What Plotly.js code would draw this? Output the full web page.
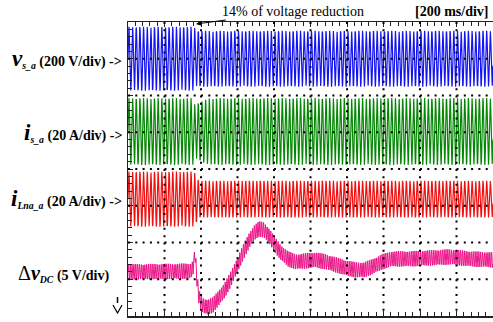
<!DOCTYPE html>
<html><head><meta charset="utf-8">
<script src="https://cdn.plot.ly/plotly-3.0.1.min.js"></script>
<style>html,body{margin:0;padding:0;background:#fff}#chart{width:493px;height:322px}</style>
</head><body><div id="chart"></div>
<script>
// ---- data ----
// time base: 200 ms/div, 10 divisions
const timeSpanMs = 2000;
const lineFreqHz = 50;
const sampleStepMs = 1.7;

// v_s_a envelope (peak volts), 200 V/div, trace centre at div 7
const vsEnvTime = [0, 364, 372, 2000];
const vsEnvAmp  = [174, 174, 152, 152];
// i_s_a envelope (peak amps), 20 A/div, trace centre at div 5
const isEnvTime = [0, 355, 365, 385, 410, 450, 2000];
const isEnvAmp  = [18.2, 18.2, 15.0, 15.4, 16.8, 18.2, 18.2];
// i_Lna_a envelope (peak amps), 20 A/div, trace centre at div 3.18
const ilEnvTime = [0, 362, 388, 2000];
const ilEnvAmp  = [15.0, 15.0, 10.0, 10.0];
// delta v_DC mean value (volts), 5 V/div, zero at div 1.2
const dcTime = [0, 340, 356, 367, 378, 389, 411, 438, 466, 499, 531, 564, 597, 630, 663, 690, 718, 745, 773, 805, 838, 877, 920, 975, 1030, 1085, 1140, 1194, 1249, 1293, 1337, 1392, 1446, 1545, 1655, 1764, 1874, 2000];
const dcMean = [0, 0.1, 0.5, 2.6, -1.1, -3.5, -4.6, -4.8, -4.5, -3.5, -2.45, -0.95, 0.8, 2.6, 4.2, 5.3, 5.85, 5.7, 4.9, 3.7, 2.6, 1.77, 1.36, 1.5, 1.63, 1.36, 0.95, 0.54, 0.27, 0.27, 0.68, 1.36, 1.77, 1.77, 1.9, 2.04, 1.77, 1.63];
const dcRippleAmp = 1.05;   // volts peak
const dcRippleHz = 100;

const channels = [
  {name: 'vs', envT: vsEnvTime, envA: vsEnvAmp, perDiv: 200, centre: 7.0, color: '#1414f0'},
  {name: 'is', envT: isEnvTime, envA: isEnvAmp, perDiv: 20, centre: 5.02, color: '#068806'},
  {name: 'il', envT: ilEnvTime, envA: ilEnvAmp, perDiv: 20, centre: 3.18, color: '#f01010'}
];
const dcChannel = {perDiv: 5, zero: 1.2, color: '#ec1488'};

function lerp(ts, vs, t) {
  if (t <= ts[0]) return vs[0];
  for (let i = 1; i < ts.length; i++) {
    if (t <= ts[i]) { const f = (t - ts[i-1]) / (ts[i] - ts[i-1]); return vs[i-1] + f * (vs[i] - vs[i-1]); }
  }
  return vs[vs.length - 1];
}

const traces = [];
channels.forEach(ch => {
  const x = [], y = [];
  for (let t = 0; t <= timeSpanMs; t += sampleStepMs) {
    const a = lerp(ch.envT, ch.envA, t);
    x.push(t);
    y.push(ch.centre + a * Math.sin(2 * Math.PI * lineFreqHz * t / 1000) / ch.perDiv);
  }
  traces.push({type: 'scatter', mode: 'lines', x, y, line: {color: ch.color, width: 1.2}, hoverinfo: 'skip'});
});
{
  const x = [], y = [];
  for (let t = 0; t <= timeSpanMs; t += sampleStepMs) {
    const m = lerp(dcTime, dcMean, t);
    x.push(t);
    y.push(dcChannel.zero + (m + dcRippleAmp * Math.sin(2 * Math.PI * dcRippleHz * t / 1000)) / dcChannel.perDiv);
  }
  traces.push({type: 'scatter', mode: 'lines', x, y, line: {color: dcChannel.color, width: 1}, hoverinfo: 'skip'});
}

// grid (oscilloscope dotted graticule)
const shapes = [];
for (let d = 1; d < 10; d++) {
  shapes.push({type: 'line', xref: 'x', yref: 'y', x0: d * 200, x1: d * 200, y0: 8, y1: 0, layer: 'above',
    line: {color: '#000', width: 2, dash: '2px,5.35px'}});
}
for (let d = 1; d < 8; d++) {
  shapes.push({type: 'line', xref: 'x', yref: 'y', x0: 0, x1: 2000, y0: d, y1: d, layer: 'above',
    line: {color: '#000', width: 2, dash: '2px,5.3px'}});
}
// ground marker of the DC channel
const px = v => (v - 128) / 365, py = v => (316 - v) / 294;
shapes.push({type: 'line', xref: 'paper', yref: 'paper', x0: px(117.5), x1: px(117.5), y0: py(297), y1: py(303), line: {color: '#000', width: 1.5}});
shapes.push({type: 'path', xref: 'paper', yref: 'paper', path: 'M' + px(113) + ',' + py(305) + ' L' + px(117.5) + ',' + py(313) + ' L' + px(122) + ',' + py(305), line: {color: '#000', width: 1.2}});

const serif = 'Liberation Serif, Times New Roman, serif';
const f14 = {family: serif, size: 14, color: '#000'};
const annotations = [
  {xref: 'paper', yref: 'y', x: px(124), y: 7.0, xanchor: 'right', yanchor: 'middle', showarrow: false, font: f14,
   text: '<span style="font-size:23px"><b><i>v</i></b></span><sub><b><i>s_a</i></b></sub><b> (200 V/div) -></b>'},
  {xref: 'paper', yref: 'y', x: px(124), y: 5.0, xanchor: 'right', yanchor: 'middle', showarrow: false, font: f14,
   text: '<span style="font-size:23px"><b><i>i</i></b></span><sub><b><i>s_a</i></b></sub><b> (20 A/div) -></b>'},
  {xref: 'paper', yref: 'y', x: px(124), y: 3.2, xanchor: 'right', yanchor: 'middle', showarrow: false, font: f14,
   text: '<span style="font-size:23px"><b><i>i</i></b></span><sub><b><i>Lna_a</i></b></sub><b> (20 A/div) -></b>'},
  {xref: 'paper', yref: 'y', x: px(111), y: 1.15, xanchor: 'right', yanchor: 'middle', showarrow: false, font: f14,
   text: '<span style="font-size:20px">Δ<b><i>v</i></b></span><sub><b><i>DC</i></b></sub><b> (5 V/div)</b>'},
  {xref: 'paper', yref: 'paper', x: px(491), y: py(12), xanchor: 'right', yanchor: 'middle', showarrow: false, font: f14,
   text: '<b>[200 ms/div]</b>'},
  {xref: 'x', yref: 'y', x: (196 - 128) * 2000 / 365, y: (316 - 24) / 36.75, showarrow: true, font: f14,
   ax: 97, ay: -13, arrowhead: 2, arrowsize: 1, arrowwidth: 1, arrowcolor: '#000',
   text: '14% of voltage reduction'}
];

const layout = {
  width: 493, height: 322,
  margin: {l: 128, r: 0, t: 22, b: 6, pad: 0},
  paper_bgcolor: '#fff', plot_bgcolor: '#fff',
  showlegend: false,
  font: {family: serif, size: 14, color: '#000'},
  xaxis: {range: [0, 2000], showgrid: false, zeroline: false, showticklabels: false,
    showline: true, linecolor: '#222', linewidth: 1.5, mirror: 'ticks',
    ticks: 'inside', ticklen: 5, tickcolor: '#222', dtick: 200, tick0: 0,
    minor: {dtick: 40, ticks: 'inside', ticklen: 4, tickcolor: '#222', showgrid: false}},
  yaxis: {range: [0, 8], showgrid: false, zeroline: false, showticklabels: false,
    showline: true, linecolor: '#222', linewidth: 1, mirror: false,
    ticks: 'inside', ticklen: 5, tickcolor: '#222', dtick: 1, tick0: 0,
    minor: {dtick: 0.2, ticks: 'inside', ticklen: 4, tickcolor: '#222', showgrid: false}},
  shapes, annotations
};
Plotly.newPlot('chart', traces, layout, {displayModeBar: false, staticPlot: true});
</script></body></html>
